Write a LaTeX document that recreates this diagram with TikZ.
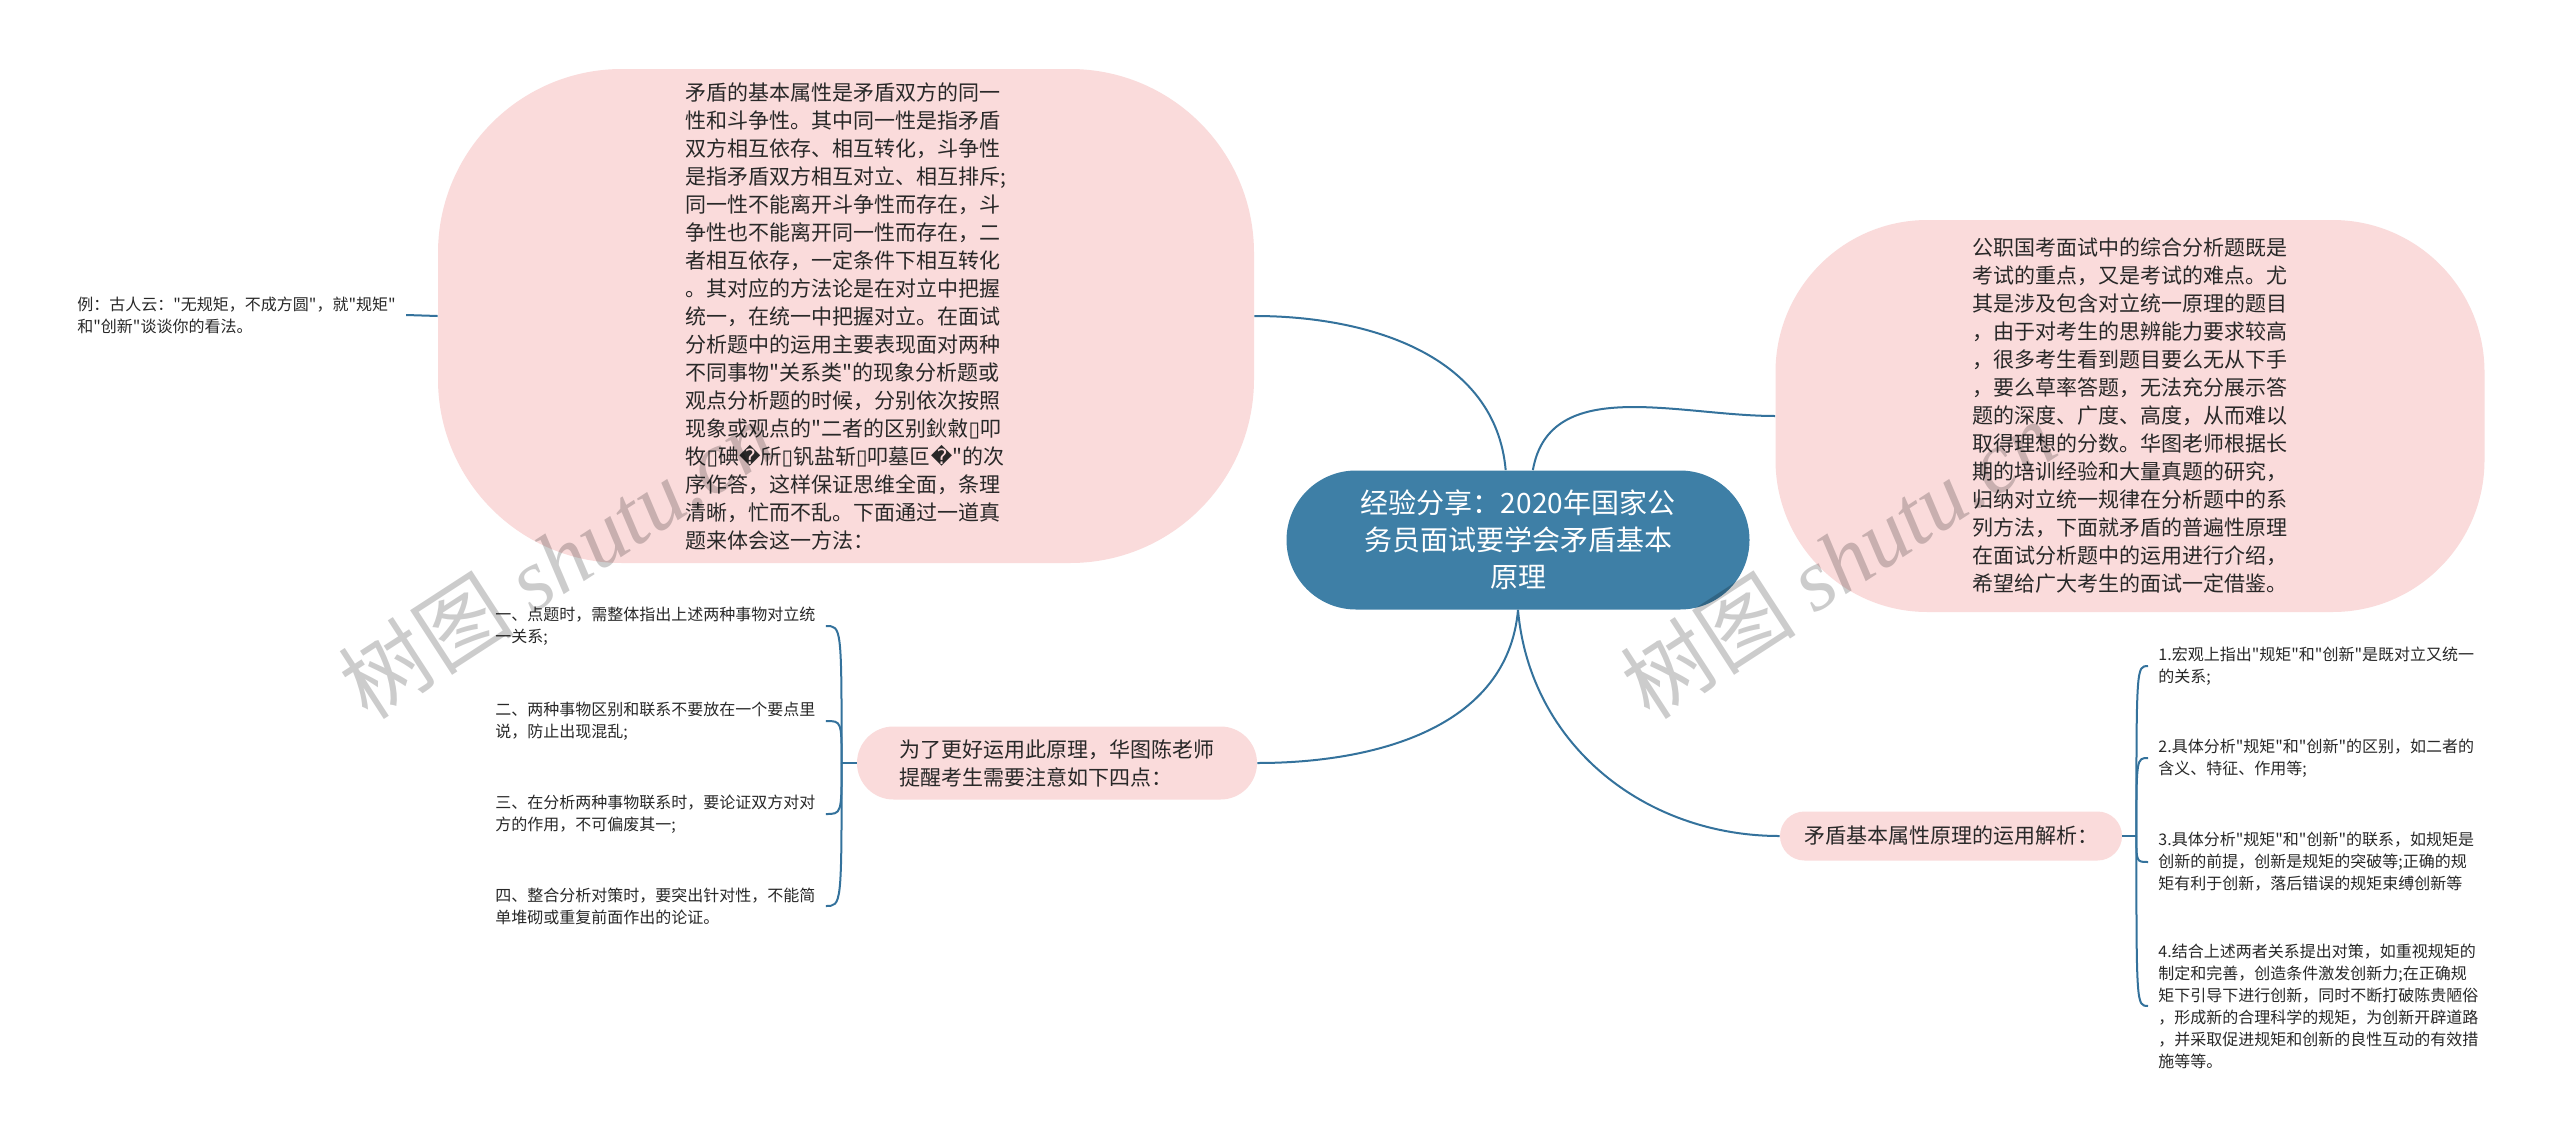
\documentclass[tikz,border=0pt]{standalone}
\usepackage{fontspec}
\setmainfont{Noto Sans CJK SC}[Ligatures=TeXOff]
\newfontfamily\wmserif{Liberation Serif}
\newfontfamily\symfont{DejaVu Sans}
\usepackage{tikz}
\usetikzlibrary{positioning}
\usepackage{xcolor}
\definecolor{HubBlue}{RGB}{62,127,166}
\definecolor{LinkBlue}{RGB}{52,114,156}
\definecolor{BubblePink}{RGB}{250,219,219}
\definecolor{LeafText}{RGB}{40,40,40}

% broken glyphs as printed in the source map
\newcommand\bx{{\symfont\char"25AF}}
\newcommand\qm{{\symfont\char"FFFD}}

\begin{document}
\begin{tikzpicture}[
    x=0.5pt, y=-0.5pt,
    hub/.style={rectangle, rounded corners=34.75pt, fill=HubBlue, text=white, align=center,
        minimum width=231.5pt, minimum height=69.5pt, inner sep=0pt,
        font=\fontsize{14pt}{18.5pt}\selectfont},
    bubble/.style={rectangle, fill=BubblePink, text=LeafText, align=left, inner sep=0pt,
        font=\fontsize{10.5pt}{14pt}\selectfont},
    pill/.style={rectangle, fill=BubblePink, text=LeafText, align=left, inner sep=0pt,
        font=\fontsize{10.5pt}{14pt}\selectfont},
    leaf/.style={align=left, inner xsep=5pt, inner ysep=0pt, text=LeafText,
        font=\fontsize{8pt}{11pt}\selectfont},
    link/.style={draw=LinkBlue, line width=1pt},
    wm/.style={text=black, text opacity=0.2, inner sep=0pt, font=\fontsize{44pt}{44pt}\selectfont},
]
\useasboundingbox[fill=white] (0,0) rectangle (2560,1146);

% main topic and its four branches
\node[hub] (root) at (1518,540) {经验分享：2020年国家公\\务员面试要学会矛盾基本\\原理};

\node[bubble, minimum width=408pt, minimum height=247pt, rounded corners=92pt] (attr) at (846,316)
    {矛盾的基本属性是矛盾双方的同一\\性和斗争性。其中同一性是指矛盾\\双方相互依存、相互转化，斗争性\\是指矛盾双方相互对立、相互排斥;\\同一性不能离开斗争性而存在，斗\\争性也不能离开同一性而存在，二\\者相互依存，一定条件下相互转化\\。其对应的方法论是在对立中把握\\统一，在统一中把握对立。在面试\\分析题中的运用主要表现面对两种\\不同事物"关系类"的现象分析题或\\观点分析题的时候，分别依次按照\\现象或观点的"二者的区别鈥敹\bx{}叩\\牧\bx{}碘\qm{}斦\bx{}钒盐斩\bx{}叩墓叵\qm{}"的次\\序作答，这样保证思维全面，条理\\清晰，忙而不乱。下面通过一道真\\题来体会这一方法：};

\node[bubble, minimum width=354.5pt, minimum height=196pt, rounded corners=76pt] (intro) at (2130,416)
    {公职国考面试中的综合分析题既是\\考试的重点，又是考试的难点。尤\\其是涉及包含对立统一原理的题目\\，由于对考生的思辨能力要求较高\\，很多考生看到题目要么无从下手\\，要么草率答题，无法充分展示答\\题的深度、广度、高度，从而难以\\取得理想的分数。华图老师根据长\\期的培训经验和大量真题的研究，\\归纳对立统一规律在分析题中的系\\列方法，下面就矛盾的普遍性原理\\在面试分析题中的运用进行介绍，\\希望给广大考生的面试一定借鉴。};

\node[pill, minimum width=200pt, minimum height=36.5pt, rounded corners=18.25pt, inner xsep=12pt] (tips) at (1057,763)
    {为了更好运用此原理，华图陈老师\\提醒考生需要注意如下四点：};

\node[pill, minimum width=171pt, minimum height=24.5pt, rounded corners=12.25pt] (apply) at (1951,836)
    {矛盾基本属性原理的运用解析：};

% leaves
\node[leaf, anchor=west] (example) at (67,315) {例：古人云："无规矩，不成方圆"，就"规矩"\\和"创新"谈谈你的看法。};

\node[leaf, anchor=west] (pt1) at (485,626) {一、点题时，需整体指出上述两种事物对立统\\一关系;};
\node[leaf, anchor=west] (pt2) at (485,721) {二、两种事物区别和联系不要放在一个要点里\\说，防止出现混乱;};
\node[leaf, anchor=west] (pt3) at (485,814) {三、在分析两种事物联系时，要论证双方对对\\方的作用，不可偏废其一;};
\node[leaf, anchor=west] (pt4) at (485,906) {四、整合分析对策时，要突出针对性，不能简\\单堆砌或重复前面作出的论证。};

\node[leaf, anchor=west] (an1) at (2148,666) {1.宏观上指出"规矩"和"创新"是既对立又统一\\的关系;};
\node[leaf, anchor=west] (an2) at (2148,758) {2.具体分析"规矩"和"创新"的区别，如二者的\\含义、特征、作用等;};
\node[leaf, anchor=west] (an3) at (2148,862) {3.具体分析"规矩"和"创新"的联系，如规矩是\\创新的前提，创新是规矩的突破等;正确的规\\矩有利于创新，落后错误的规矩束缚创新等};
\node[leaf, anchor=west] (an4) at (2148,1006) {4.结合上述两者关系提出对策，如重视规矩的\\制定和完善，创造条件激发创新力;在正确规\\矩下引导下进行创新，同时不断打破陈贵陋俗\\，形成新的合理科学的规矩，为创新开辟道路\\，并采取促进规矩和创新的良性互动的有效措\\施等等。};

% connectors
\draw[link] (root.100) to[out=95, in=0] (attr.east);
\draw[link] (root.78) to[out=80, in=180] (intro.west);
\draw[link] (root.south) to[out=-95, in=0] (tips.east);
\draw[link] (root.south) to[out=-85, in=180] (apply.west);
\draw[link] (attr.west) -- (example.east);

\coordinate (tj) at ([xshift=-7.5pt]tips.west);
\draw[link] (tips.west) -- (tj);
\foreach \n in {pt1,pt2,pt3,pt4}
    \draw[link] (tj) .. controls (tj |- \n.east) .. (\n.east);

\coordinate (aj) at ([xshift=7pt]apply.east);
\draw[link] (apply.east) -- (aj);
\foreach \n in {an1,an2,an3,an4}
    \draw[link] (aj) .. controls (aj |- \n.west) .. (\n.west);

% watermark
\node[wm, anchor=south west, rotate=33] (wmleft) at (372,728) {树图 {\wmserif\itshape shutu.cn}};
\node[wm, anchor=south west, rotate=33] (wmright) at (1654,728) {树图 {\wmserif\itshape shutu.cn}};
\end{tikzpicture}
\end{document}
